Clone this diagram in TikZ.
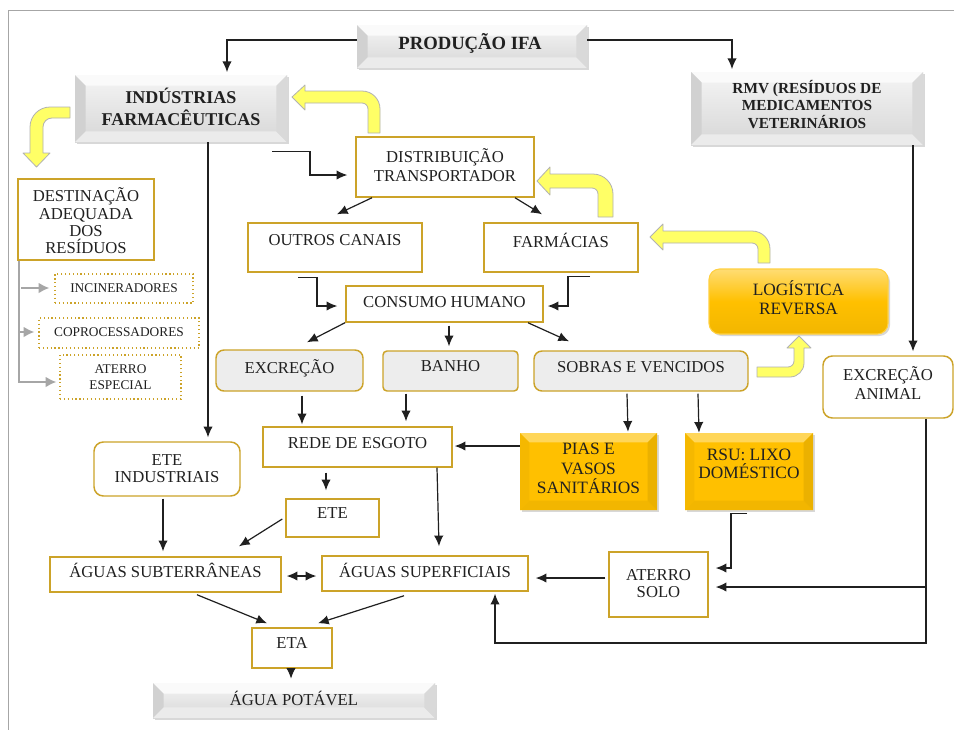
\documentclass[tikz,border=0pt]{standalone}
\usepackage{fontspec}
\setmainfont{Liberation Serif}
\usetikzlibrary{arrows.meta,calc,fit,shadows}
\definecolor{goldb}{RGB}{204,163,41}
\definecolor{yarrow}{HTML}{FFFF66}
\definecolor{ygold}{HTML}{FFC000}
\definecolor{lgray}{HTML}{EDEDED}
\definecolor{treeg}{HTML}{A6A6A6}
\definecolor{ink}{HTML}{202020}
\newcommand\bevelfacets[5]{%
 \path (path picture bounding box.north west) coordinate (pNW)
       (path picture bounding box.north east) coordinate (pNE)
       (path picture bounding box.south west) coordinate (pSW)
       (path picture bounding box.south east) coordinate (pSE);
 \path (pNW) ++(#1,-#1) coordinate (iNW)
       (pNE) ++(-#1,-#1) coordinate (iNE)
       (pSW) ++(#1,#1) coordinate (iSW)
       (pSE) ++(-#1,#1) coordinate (iSE);
 \fill[#2] (pNW)--(pNE)--(iNE)--(iNW)--cycle;
 \fill[#3] (pNW)--(iNW)--(iSW)--(pSW)--cycle;
 \fill[#4] (pSW)--(iSW)--(iSE)--(pSE)--cycle;
 \fill[#5] (pNE)--(pSE)--(iSE)--(iNE)--cycle;}
\tikzset{
 box/.style={draw=goldb, line width=1.1pt, fill=white, inner sep=0pt},
 rbox/.style={box, rounded corners=7pt},
 gbox/.style={draw=goldb, line width=1.1pt, fill=lgray, rounded corners=6pt, inner sep=0pt},
 dbox/.style={draw=goldb, line width=0.9pt, dotted, inner sep=0pt},
 shad/.style={drop shadow={shadow xshift=1.5pt,shadow yshift=-1.5pt,opacity=.3,fill=gray}},
 bevg/.style={shad, top color=gray!8, bottom color=gray!32, inner sep=0pt,
   path picture={\bevelfacets{8pt}{gray!4}{gray!36}{gray!16}{gray!30}}},
 bevy/.style={shad, fill=ygold, inner sep=0pt,
   path picture={\bevelfacets{7pt}{ygold!65!white}{ygold!96!black}{ygold!95!black}{ygold!92!black}}},
 logi/.style={shad, draw=ygold!75!white, line width=0.8pt, rounded corners=8pt, inner sep=0pt,
   top color=ygold!55!white, bottom color=ygold!95!black, middle color=ygold},
 tx/.style={font=\fontsize{12.5}{#1}\selectfont, align=center, inner sep=0pt, text=ink},
 tx/.default=14,
 tsm/.style={font=\fontsize{10}{#1}\selectfont, align=center, inner sep=0pt, text=ink},
 tsm/.default=12,
 arr/.style={draw=ink, line width=0.9pt, -{Latex[length=8pt,width=7pt]}},
 darr/.style={draw=ink, line width=0.9pt, {Latex[length=8pt,width=7pt]}-{Latex[length=8pt,width=7pt]}},
 garr/.style={draw=treeg, line width=1.5pt, -{Latex[length=8pt,width=8pt]}},
 yblk/.style={fill=yarrow, draw=gray!60, line width=0.6pt, line join=round},
}
\begin{document}
\begin{tikzpicture}[x=0.75pt,y=-0.75pt]
\useasboundingbox (0,0) rectangle (954,729);
\fill[white] (0,0) rectangle (954,729);
% frame
\draw[gray!70, line width=1.1pt] (8.5,740) -- (8.5,10.5) -- (970,10.5);

% ---------- boxes ----------
\node[bevg, fit={(357,25) (587,68)}] (prod) {};
\node[font=\fontsize{14}{16}\selectfont\bfseries, text=ink, inner sep=0pt] (prodT) at (470,43) {PRODUÇÃO IFA};

\node[bevg, fit={(75,75) (287,142)}] (ind) {};
\node[font=\fontsize{13.5}{16.5}\selectfont\bfseries, align=center, text=ink, inner sep=0pt] (indT) at (181,107) {INDÚSTRIAS\\FARMACÊUTICAS};

\node[bevg, fit={(691,72) (923,145)}] (rmv) {};
\node[font=\fontsize{11.5}{13.1}\selectfont\bfseries, align=center, text=ink, inner sep=0pt] (rmvT) at (807,104.5) {RMV (RESÍDUOS DE\\MEDICAMENTOS\\VETERINÁRIOS};

\node[box, fit={(356,137) (534,197)}] (dist) {};
\node[tx=14.25] (distT) at (445,165.5) {DISTRIBUIÇÃO\\TRANSPORTADOR};

\node[box, fit={(248,223) (422,272)}] (outros) {};
\node[tx] (outrosT) at (335,240) {OUTROS CANAIS};

\node[box, fit={(484,223) (638,272)}] (farm) {};
\node[tx] (farmT) at (561,240) {FARMÁCIAS};

\node[box, fit={(346,286) (543,322)}] (cons) {};
\node[tx] (consT) at (444.5,302) {CONSUMO HUMANO};

\node[gbox, fit={(216,350) (363,391)}] (excr) {};
\node[tx] (excrT) at (289.5,368) {EXCREÇÃO};
\node[gbox, rounded corners=3pt, fit={(383,351) (518,391)}] (banho) {};
\node[tx] (banhoT) at (450.5,366) {BANHO};
\node[gbox, fit={(534,351) (748,391)}] (sobras) {};
\node[tx] (sobrasT) at (641,367) {SOBRAS E VENCIDOS};

\node[logi, fit={(709,269) (888,334)}] (log) {};
\node[tx=14.25, font=\fontsize{13}{14.25}\selectfont] (logT) at (798.5,297.5) {LOGÍSTICA\\REVERSA};

\node[rbox, fit={(823,356) (953,418)}] (excran) {};
\node[tx=14.25] (excranT) at (888,383.5) {EXCREÇÃO\\ANIMAL};

\node[box, fit={(263,427) (452,467)}] (rede) {};
\node[tx] (redeT) at (357.5,443) {REDE DE ESGOTO};

\node[bevy, fit={(520,433) (657,510)}] (pias) {};
\node[tx, font=\fontsize{13}{14.6}\selectfont] (piasT) at (588.5,468.5) {PIAS E\\VASOS\\SANITÁRIOS};

\node[bevy, fit={(685,433) (813,510)}] (rsu) {};
\node[tx, font=\fontsize{13}{13.5}\selectfont] (rsuT) at (749,464) {RSU: LIXO\\DOMÉSTICO};

\node[rbox, fit={(94,442) (240,496)}] (eteind) {};
\node[tx=12.75] (eteindT) at (167,468.5) {ETE\\INDUSTRIAIS};

\node[box, fit={(286,499) (379,537)}] (ete) {};
\node[tx] (eteT) at (332.5,513) {ETE};

\node[box, fit={(609,552) (708,617)}] (aterro) {};
\node[tx=12.75] (aterroT) at (658.5,583.5) {ATERRO\\SOLO};

\node[box, fit={(322,556) (528,591)}] (agsup) {};
\node[tx] (agsupT) at (425,570) {ÁGUAS SUPERFICIAIS};

\node[box, fit={(50,557) (281,592)}] (agsub) {};
\node[tx] (agsubT) at (165.5,570) {ÁGUAS SUBTERRÂNEAS};

\node[box, fit={(252,628) (332,668)}] (eta) {};
\node[tx] (etaT) at (292,643) {ETA};

\node[bevg, fit={(153,683) (435,718)}] (agpot) {};
\node[tx] (agpotT) at (294,698) {ÁGUA POTÁVEL};

\node[box, fit={(18,179) (154,260)}] (dest) {};
\node[tx=13] (destT) at (86,221) {DESTINAÇÃO\\ADEQUADA\\DOS\\RESÍDUOS};

\node[dbox, fit={(55,274) (193,303)}] (incin) {};
\node[tsm] (incinT) at (124,288.5) {INCINERADORES};
\node[dbox, fit={(39,318) (199,348)}] (copro) {};
\node[tsm] (coproT) at (119,332.5) {COPROCESSADORES};
\node[dbox, fit={(60,355) (181,399)}] (atesp) {};
\node[tsm=12] (atespT) at (120.5,377) {ATERRO\\ESPECIAL};

% ---------- yellow block arrows ----------
\filldraw[yblk] (70,107) -- (50,107) .. controls (39,107) and (30,116) .. (30,127) -- (30,153) -- (23,153) -- (36.5,167) -- (50,153) -- (43,153) -- (43,127) .. controls (43,122) and (47,118) .. (52,118) -- (70,118) -- cycle;
\filldraw[yblk] (380,133) -- (380,109) .. controls (380,99) and (372,91) .. (362,91) -- (305,91) -- (305,85) -- (292,97) -- (305,110) -- (305,103) -- (362,103) .. controls (365.3,103) and (368,105.7) .. (368,109) -- (368,133) -- cycle;
\filldraw[yblk] (613,217) -- (613,194) .. controls (613,183) and (604,174) .. (593,174) -- (550,174) -- (550,167) -- (537,181) -- (550,195) -- (550,188) -- (592,188) .. controls (595.3,188) and (598,190.7) .. (598,194) -- (598,217) -- cycle;
\filldraw[yblk] (770,263) -- (770,249) .. controls (770,239) and (762,231) .. (752,231) -- (663,231) -- (663,224) -- (650,237) -- (663,250) -- (663,243) -- (752,243) .. controls (755.3,243) and (758,245.7) .. (758,249) -- (758,263) -- cycle;
\filldraw[yblk] (757,367) -- (788,367) .. controls (791.3,367) and (794,364.3) .. (794,361) -- (794,348) -- (787,348) -- (799,336) -- (811,348) -- (804,348) -- (804,363) .. controls (804,370.7) and (797.7,377) .. (790,377) -- (757,377) -- cycle;

% ---------- connectors ----------
\draw[arr, shorten >=2pt] (prod.west |- 0,40) -| (ind.north -| 227,0);
\draw[arr, shorten >=2pt] (prod.east |- 0,40) -| (rmv.north -| 732,0);
\draw[arr] ($(ind.south -| 272,0)+(0,9)$) -| (310,175) -- ($(dist.west |- 0,175)+(-8,0)$);
\draw[arr] (dist.south -| 372,0) -- ($(outros.north -| 337,0)+(0,-8)$);
\draw[arr] (dist.south -| 515,0) -- ($(farm.north -| 542,0)+(0,-8)$);
\draw[arr] ($(outros.south -| 298,0)+(0,5)$) -| (317,306) -- ($(cons.west |- 0,306)+(-8,0)$);
\draw[arr] ($(farm.south -| 590,0)+(0,4)$) -| (568,306) -- ($(cons.east |- 0,306)+(4,0)$);
\draw[arr] (cons.south -| 345,0) -- ($(excr.north -| 307,0)+(0,-7)$);
\draw[arr] ($(cons.south -| 449,0)+(0,3)$) -- ($(banho.north -| 449,0)+(0,-4)$);
\draw[arr] (cons.south -| 528,0) -- ($(sobras.north -| 569,0)+(0,-9)$);
\draw[arr] ($(excr.south -| 302,0)+(0,4)$) -- ($(rede.north -| 302,0)+(0,-2)$);
\draw[arr] ($(banho.south -| 406,0)+(0,2)$) -- ($(rede.north -| 406,0)+(0,-5)$);
\draw[arr] ($(sobras.south -| 627,0)+(0,2)$) -- ($(pias.north -| 628,0)+(0,-1)$);
\draw[arr] ($(sobras.south -| 698,0)+(0,2)$) -- (rsu.north -| 699,0);
\draw[arr] (pias.west |- 0,446) -- ($(rede.east |- 0,446)+(2,0)$);
\draw[arr] ($(rede.south -| 326,0)+(0,5)$) -- ($(ete.north -| 326,0)+(0,-8)$);
\draw[arr] (rede.south -| 437,0) -- ($(agsup.north -| 439,0)+(0,-9)$);
\draw[arr] ($(ete.west |- 0,519)+(-3,0)$) -- ($(agsub.north -| 239,0)+(0,-10)$);
\draw[arr] (ind.south -| 208,0) -- ($(eteind.north -| 208,0)+(0,-4)$);
\draw[arr] ($(eteind.south -| 163,0)+(0,2)$) -- ($(agsub.north -| 163,0)+(0,-5)$);
\draw[darr] ($(agsub.east |- 0,576)+(5,0)$) -- ($(agsup.west |- 0,576)+(-5,0)$);
\draw[arr] ($(agsub.south -| 197,0)+(0,2)$) -- ($(eta.north -| 267,0)+(0,-4)$);
\draw[arr] ($(agsup.south -| 404,0)+(0,4)$) -- ($(eta.north -| 318,0)+(0,-4)$);
\draw[arr] (eta.south -| 291,0) -- ($(agpot.north -| 291,0)+(0,-4)$);
\draw[arr] (rmv.south -| 913,0) -- ($(excran.north -| 913,0)+(0,-4)$);
\draw[arr] (excran.south -| 926,0) -- (926,643) -| ($(agsup.south -| 495,0)+(0,2)$);
\coordinate (jn) at (926,587);
\draw[arr] (jn) -- ($(aterro.east |- 0,587)+(7,0)$);
\draw[arr] ($(rsu.south -| 747,0)+(0,3)$) -| (731,568) -- ($(aterro.east |- 0,568)+(7,0)$);
\draw[arr] ($(aterro.west |- 0,578)+(-3,0)$) -- ($(agsup.east |- 0,578)+(7,0)$);

% gray tree
\draw[garr] (dest.south -| 19,0) -- (19,382) -- ($(atesp.west |- 0,382)+(-3,0)$);
\draw[garr] (21,288) -- ($(incin.west |- 0,288)+(-5,0)$);
\draw[garr] (19,332) -- ($(copro.west |- 0,332)+(-4,0)$);
\end{tikzpicture}
\end{document}
